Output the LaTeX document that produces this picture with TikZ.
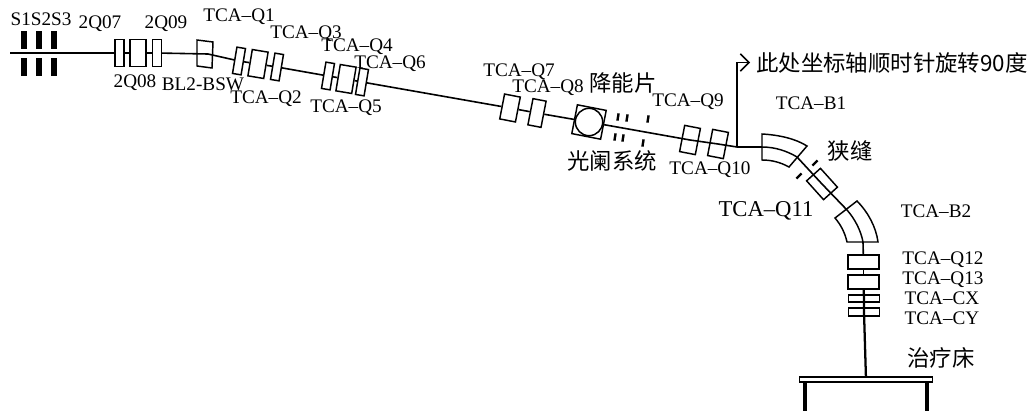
\documentclass[tikz,border=0pt]{standalone}
\usepackage{fontspec}
\setmainfont{Liberation Serif}
\newfontfamily\cjk{Noto Sans CJK SC}
\usetikzlibrary{arrows.meta}
\tikzset{barb/.style = {-{Straight Barb[length=6.5pt, width=13pt, line width=1.1pt]}}}
\tikzset{beam/.style = {line width=1.2pt},
         tag/.style = {font=\fontsize{14.4}{16}\selectfont, inner sep=0pt},
         cjktag/.style = {font=\cjk\fontsize{16.8}{18}\selectfont, inner sep=0pt},
         magnet/.style = {draw, fill=white, line width=1.1pt, inner sep=0pt, minimum height=20pt},
         qslim/.style = {magnet, minimum width=6.5pt},
         qwide/.style = {magnet, minimum width=12pt},
         hollow/.style = {draw, line width=1.1pt, inner sep=0pt},
         bar/.style = {fill=black, inner sep=0pt, minimum width=3.8pt, minimum height=13.5pt},
         slit/.style = {fill=black, inner sep=0pt, minimum width=1.8pt, minimum height=5.5pt}}
\begin{document}
\begin{tikzpicture}[x=0.75pt, y=-0.75pt]
      \useasboundingbox (0, 0) rectangle (1031, 411);

      \coordinate (bstart) at (10, 53);
      \coordinate (bsw) at (208, 54);
      \coordinate (turn) at (737, 147);
      \coordinate (corner) at (737, 62.5);
      \coordinate (tip) at (750, 62.5);
      \coordinate (bendain) at (762, 147);
      \coordinate (bendaout) at (797, 157);
      \coordinate (bendbin) at (847, 210);
      \coordinate (bendbout) at (863, 242);
      \coordinate (legl) at (805, 411);
      \coordinate (legr) at (927, 411);

      \foreach \x/\n in {24/a, 39/b, 54/c} {
        \node [bar] (s\n up) at (\x, 40) {};
        \node [bar] (s\n low) at (\x, 66.5) {};
      }

      \node [qslim, rotate=0] (qseven) at (119.5, 53) {};
      \node [qwide, rotate=0] (qeight) at (138, 53) {};
      \node [qslim, rotate=0] (qnine) at (157, 53) {};

      \draw [hollow] (197, 40) -- (213, 42) -- (212, 68) -- (197, 66) -- cycle;

      \node [qslim, rotate=-9.5] (qa) at (239, 61) {};
      \node [qwide, rotate=-9.5] (qb) at (258, 64) {};
      \node [qslim, rotate=-9.5] (qc) at (277, 67) {};

      \node [qslim, rotate=-9.5] (qd) at (328, 76) {};
      \node [qwide, rotate=-9.5] (qe) at (346, 79) {};
      \node [qslim, rotate=-9.5] (qf) at (362, 82) {};

      \node [qwide, rotate=-11, minimum height=19pt] (qg) at (510, 108) {};
      \node [qwide, rotate=-11, minimum width=10pt] (qh) at (537, 113) {};

      \node [magnet, rotate=-11, minimum width=22pt, minimum height=22pt] (degrader) at (589, 122) {};
      \node [circle, draw, fill=white, line width=1.1pt, inner sep=0pt, minimum size=20.5pt] (degcircle) at (589, 122) {};

      \node [slit, rotate=-9.5] (sla) at (618, 117) {};
      \node [slit, rotate=-9.5] (slb) at (627, 118) {};
      \node [slit, rotate=-9.5] (slc) at (615, 137) {};
      \node [slit, rotate=-9.5] (sld) at (623, 138) {};
      \node [slit, rotate=-9.5] (sle) at (648, 119) {};
      \node [slit, rotate=-9.5] (slf) at (643, 143) {};

      \node [hollow, rotate=-11, minimum width=12pt, minimum height=20pt] (qi) at (690, 140) {};
      \node [hollow, rotate=-11, minimum width=12pt, minimum height=20pt] (qj) at (718, 144) {};

      \draw [hollow] (762, 134) .. controls (780, 135) and (796, 139) .. (807, 146)
        -- (789, 167) .. controls (780, 162) and (771, 160) .. (762, 160) -- cycle;
      \draw [hollow] (bendain) .. controls (775, 147) and (787, 151) .. (bendaout);

      \node [hollow, rotate=42, minimum width=14pt, minimum height=19pt] (qk) at (822, 184) {};
      \node [slit, rotate=-45] (slg) at (815, 163) {};
      \node [slit, rotate=-45] (slh) at (799, 176) {};

      \draw [hollow] (857, 201) .. controls (868, 212) and (876, 227) .. (878, 242)
        -- (847, 242) .. controls (845, 233) and (841, 225) .. (835, 218) -- cycle;
      \draw [hollow] (bendbin) .. controls (855, 219) and (861, 231) .. (bendbout);

      \node [magnet, minimum width=23pt, minimum height=10.5pt] (ql) at (863.5, 262) {};
      \node [magnet, minimum width=23pt, minimum height=10.5pt] (qm) at (863.5, 282) {};
      \node [hollow, minimum width=23pt, minimum height=5.5pt] (cx) at (864, 298.5) {};
      \node [hollow, minimum width=23pt, minimum height=6pt] (cy) at (864, 312) {};

      \node [draw, line width=1.2pt, inner sep=0pt, minimum width=100pt, minimum height=3.6pt] (table) at (866, 379.5) {};

      \draw [beam] (bstart) -- (qseven) -- (qeight) -- (qnine) -- (bsw) -- (qa) -- (qb) -- (qc) -- (qd) -- (qe) -- (qf) -- (qg) -- (qh) -- (degrader);
      \draw [beam] (degrader) -- (qi.center) -- (qj.center) -- (turn) -- (bendain);
      \draw [beam] (bendaout) -- (qk.center) -- (bendbin);
      \draw [beam] (bendbout) -- (ql);
      \draw [beam] (ql) -- (qm);
      \draw [line width=1.7pt] (qm) -- (cx.center) -- (cy.center) -- (table);
      \draw [beam, barb] (turn) -- (corner) -- (tip);
      \draw [line width=2.4pt] (legl |- table.south) -- (legl);
      \draw [line width=2.4pt] (legr |- table.south) -- (legr);

      \node [tag] (ts) at (41, 19) {S1S2S3};
      \node [tag] (tqseven) at (100, 24) {2Q07};
      \node [tag] (tqnine) at (166, 24) {2Q09};
      \node [tag] (tqeight) at (135, 83) {2Q08};
      \node [tag] (tbsw) at (203, 84) {BL2-BSW};
      \node [tag] (tqa) at (239, 17) {TCA–Q1};
      \node [tag] (tqc) at (306, 34) {TCA–Q3};
      \node [tag] (tqd) at (357, 47) {TCA–Q4};
      \node [tag] (tqf) at (390, 64) {TCA–Q6};
      \node [tag] (tqb) at (266, 99) {TCA–Q2};
      \node [tag] (tqe) at (346, 108) {TCA–Q5};
      \node [tag] (tqg) at (519, 72) {TCA–Q7};
      \node [tag] (tqh) at (548, 88) {TCA–Q8};
      \node [tag] (tqi) at (688, 102) {TCA–Q9};
      \node [tag] (tqj) at (710, 170) {TCA–Q10};
      \node [tag] (tba) at (811, 103) {TCA–B1};
      \node [tag] (tbb) at (936, 211) {TCA–B2};
      \node [tag, font=\fontsize{17}{19}\selectfont] (tqk) at (766, 211) {TCA–Q11};
      \node [tag] (tql) at (943, 260) {TCA–Q12};
      \node [tag] (tqm) at (943, 280) {TCA–Q13};
      \node [tag] (tcx) at (942, 298) {TCA–CX};
      \node [tag] (tcy) at (942, 318) {TCA–CY};

      \node [cjktag] (tdegrader) at (623, 83) {降能片};
      \node [cjktag] (tslits) at (612, 161) {光阑系统};
      \node [cjktag] (tnarrow) at (850, 151) {狭缝};
      \node [cjktag] (tcouch) at (941, 358) {治疗床};
      \node [cjktag, anchor=west] (tnote) at (756, 62.5) {此处坐标轴顺时针旋转90度};
    \end{tikzpicture}
\end{document}
